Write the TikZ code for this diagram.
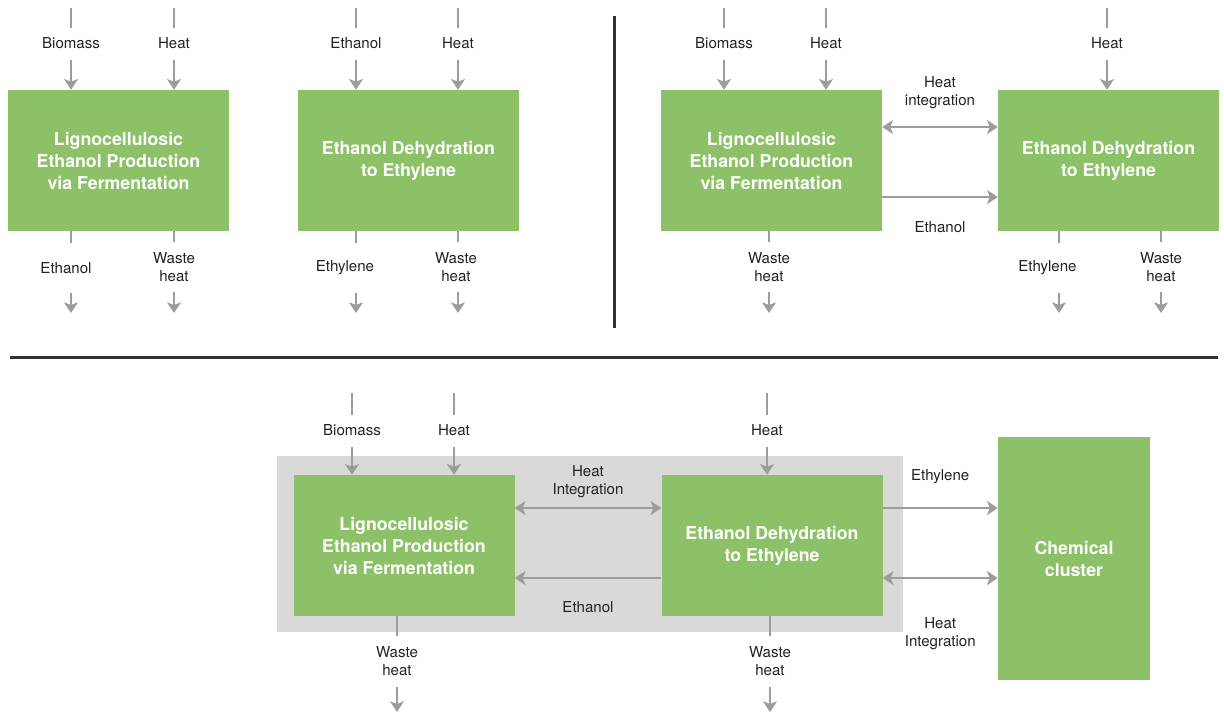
\documentclass[tikz,border=0pt]{standalone}
\usepackage{fontspec}
\setmainfont{TeX Gyre Heros}
\usetikzlibrary{arrows.meta,positioning}
\definecolor{procgreen}{HTML}{8CC167}
\definecolor{flowgray}{HTML}{9C9C9C}
\definecolor{bandgray}{HTML}{D9D9D9}
\definecolor{rulegray}{HTML}{333333}
\definecolor{labelink}{HTML}{222222}

\begin{document}
\begin{tikzpicture}[x=0.75pt,y=-0.75pt,
    proc/.style={fill=procgreen,text=white,font=\bfseries\fontsize{13.3}{16.5}\selectfont,
                 align=center,minimum width=165.75pt,minimum height=105.75pt,inner sep=0pt},
    tag/.style={font=\fontsize{11.3}{13.5}\selectfont,text=labelink,align=center,inner sep=0pt},
    lab/.style={tag,inner ysep=7pt,text height=8pt,text depth=2pt},
    outlab/.style={tag,inner ysep=7pt,minimum height=37.5pt},
    flow/.style={draw=flowgray,line width=1.5pt},
    into/.style={flow,-{Stealth[length=8pt,width=10.5pt,inset=2pt]}},
    both/.style={flow,{Stealth[length=8pt,width=10.5pt,inset=2pt]}-{Stealth[length=8pt,width=10.5pt,inset=2pt]}}]
\useasboundingbox (0,0) rectangle (1224,714);

\draw[rulegray,line width=2.25pt] (614,16) -- (614,328);
\draw[rulegray,line width=2.25pt] (10,357) -- (1218,357);

% separate plants
\node[proc] (ligA) at (118.5,160.5) {Lignocellulosic\\Ethanol Production\\via Fermentation};
\node[proc] (dehA) at (408.5,160.5) {Ethanol Dehydration\\to Ethylene};

\coordinate (sBioA) at (71,8);
\node[lab] (tBioA) at (71,44) {Biomass};
\draw[flow] (sBioA) -- (tBioA.north);
\draw[into] (tBioA.south) -- (tBioA.south |- ligA.north);
\coordinate (sHeatA) at (174,8);
\node[lab] (tHeatA) at (174,44) {Heat};
\draw[flow] (sHeatA) -- (tHeatA.north);
\draw[into] (tHeatA.south) -- (tHeatA.south |- ligA.north);
\coordinate (sEthA) at (356,8);
\node[lab] (tEthA) at (356,44) {Ethanol};
\draw[flow] (sEthA) -- (tEthA.north);
\draw[into] (tEthA.south) -- (tEthA.south |- dehA.north);
\coordinate (sHeatA2) at (458,8);
\node[lab] (tHeatA2) at (458,44) {Heat};
\draw[flow] (sHeatA2) -- (tHeatA2.north);
\draw[into] (tHeatA2.south) -- (tHeatA2.south |- dehA.north);

\node[outlab] (oEthA) at (66,268) {Ethanol};
\coordinate (eEthA) at (71,313);
\draw[flow] (eEthA |- ligA.south) -- (eEthA |- oEthA.north);
\draw[into] (eEthA |- oEthA.south) -- (eEthA);
\node[outlab] (oWasteA) at (174,267) {Waste\\heat};
\coordinate (eWasteA) at (174,313);
\draw[flow] (oWasteA.north |- ligA.south) -- (oWasteA.north);
\draw[into] (oWasteA.south) -- (eWasteA);
\node[outlab] (oEtyA) at (345,268) {Ethylene};
\coordinate (eEtyA) at (356,313);
\draw[flow] (eEtyA |- dehA.south) -- (eEtyA |- oEtyA.north);
\draw[into] (eEtyA |- oEtyA.south) -- (eEtyA);
\node[outlab] (oWasteA2) at (456,267) {Waste\\heat};
\coordinate (eWasteA2) at (458,313);
\draw[flow] (eWasteA2 |- dehA.south) -- (eWasteA2 |- oWasteA2.north);
\draw[into] (eWasteA2 |- oWasteA2.south) -- (eWasteA2);

% integrated plants
\node[proc] (ligB) at (771.5,160.5) {Lignocellulosic\\Ethanol Production\\via Fermentation};
\node[proc] (dehB) at (1108.5,160.5) {Ethanol Dehydration\\to Ethylene};

\coordinate (sBioB) at (724,8);
\node[lab] (tBioB) at (724,44) {Biomass};
\draw[flow] (sBioB) -- (tBioB.north);
\draw[into] (tBioB.south) -- (tBioB.south |- ligB.north);
\coordinate (sHeatB) at (826,8);
\node[lab] (tHeatB) at (826,44) {Heat};
\draw[flow] (sHeatB) -- (tHeatB.north);
\draw[into] (tHeatB.south) -- (tHeatB.south |- ligB.north);
\coordinate (sHeatB2) at (1107,8);
\node[lab] (tHeatB2) at (1107,44) {Heat};
\draw[flow] (sHeatB2) -- (tHeatB2.north);
\draw[into] (tHeatB2.south) -- (tHeatB2.south |- dehB.north);

\draw[both] ([yshift=25.1pt]ligB.east) -- ([yshift=25.1pt]ligB.east -| dehB.west)
    node[tag,midway,above=13pt] {Heat\\integration};
\draw[into] ([yshift=-27.4pt]ligB.east) -- ([yshift=-27.4pt]ligB.east -| dehB.west)
    node[tag,midway,below=17.5pt] {Ethanol};

\node[outlab] (oWasteB) at (769,267) {Waste\\heat};
\coordinate (eWasteB) at (769,313);
\draw[flow] (oWasteB.north |- ligB.south) -- (oWasteB.north);
\draw[into] (oWasteB.south) -- (eWasteB);
\node[outlab] (oEtyB) at (1047.5,268) {Ethylene};
\coordinate (eEtyB) at (1059,313);
\draw[flow] (eEtyB |- dehB.south) -- (eEtyB |- oEtyB.north);
\draw[into] (eEtyB |- oEtyB.south) -- (eEtyB);
\node[outlab] (oWasteB2) at (1161,267) {Waste\\heat};
\coordinate (eWasteB2) at (1161,313);
\draw[flow] (oWasteB2.north |- dehB.south) -- (oWasteB2.north);
\draw[into] (oWasteB2.south) -- (eWasteB2);

% plants in a chemical cluster
\fill[bandgray] (277,456) rectangle (903,632);
\node[proc] (ligC) at (404,545.5) {Lignocellulosic\\Ethanol Production\\via Fermentation};
\node[proc] (dehC) at (772,545.5) {Ethanol Dehydration\\to Ethylene};
\node[proc,minimum width=114pt,minimum height=182.25pt] (chem) at (1074,558.5) {Chemical\\cluster};

\coordinate (sBioC) at (352,393);
\node[lab] (tBioC) at (352,431) {Biomass};
\draw[flow] (sBioC) -- (tBioC.north);
\draw[into] (tBioC.south) -- (tBioC.south |- ligC.north);
\coordinate (sHeatC) at (454,393);
\node[lab] (tHeatC) at (454,431) {Heat};
\draw[flow] (sHeatC) -- (tHeatC.north);
\draw[into] (tHeatC.south) -- (tHeatC.south |- ligC.north);
\coordinate (sHeatC2) at (767,393);
\node[lab] (tHeatC2) at (767,431) {Heat};
\draw[flow] (sHeatC2) -- (tHeatC2.north);
\draw[into] (tHeatC2.south) -- (tHeatC2.south |- dehC.north);

\draw[both] ([yshift=28.1pt]ligC.east) -- ([yshift=28.1pt]ligC.east -| dehC.west)
    node[tag,midway,above=6.6pt] {Heat\\Integration};
\draw[into] ([yshift=-24.4pt]dehC.west) -- ([yshift=-24.4pt]dehC.west -| ligC.east)
    node[tag,midway,below=16.7pt] {Ethanol};
\draw[into] ([yshift=28.1pt]dehC.east) -- ([yshift=28.1pt]dehC.east -| chem.west)
    node[tag,midway,above=17.5pt] {Ethylene};
\draw[both] ([yshift=-24.4pt]dehC.east) -- ([yshift=-24.4pt]dehC.east -| chem.west)
    node[tag,midway,below=29pt] {Heat\\Integration};

\node[outlab] (oWasteC) at (397,661.5) {Waste\\heat};
\coordinate (eWasteC) at (397,712);
\draw[flow] (oWasteC.north |- ligC.south) -- (oWasteC.north);
\draw[into] (oWasteC.south) -- (eWasteC);
\node[outlab] (oWasteC2) at (770,661.5) {Waste\\heat};
\coordinate (eWasteC2) at (770,712);
\draw[flow] (oWasteC2.north |- dehC.south) -- (oWasteC2.north);
\draw[into] (oWasteC2.south) -- (eWasteC2);
\end{tikzpicture}
\end{document}
